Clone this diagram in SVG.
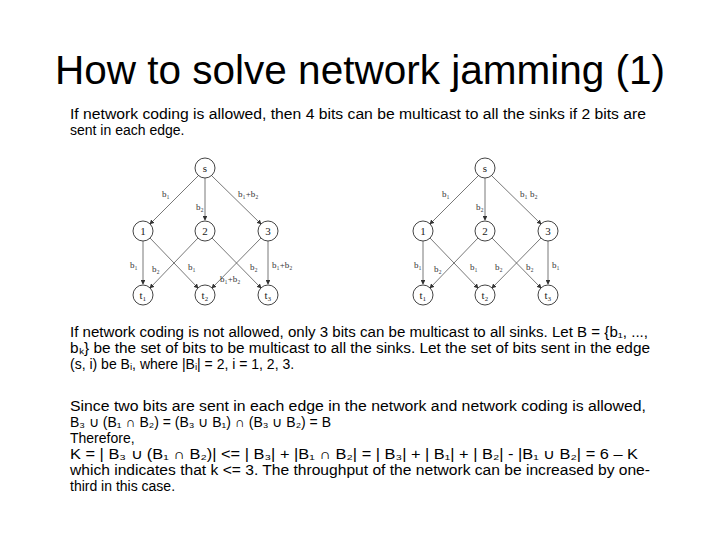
<svg xmlns="http://www.w3.org/2000/svg" width="720" height="540" viewBox="0 0 720 540">
<style>
.t{font-family:"Liberation Sans",Arial,sans-serif;font-size:14px;fill:#000}
.n circle{fill:#fff;stroke:#444;stroke-width:1}
.n text{font-family:"Liberation Serif",serif;font-size:11px;text-anchor:middle;fill:#222}
.c line{stroke:#555;stroke-width:0.8;marker-end:url(#a)}
.l text{font-family:"Liberation Serif",serif;font-size:9px;fill:#333}
</style>
<defs><marker id="a" markerWidth="6" markerHeight="6" refX="5" refY="3" orient="auto"><path d="M0,0L6,3L0,6z" fill="#333"/></marker></defs>
<rect width="720" height="540" fill="#fff"/>
<text x="360" y="84" text-anchor="middle" font-family="'Liberation Sans',Arial,sans-serif" font-size="40" textLength="610" lengthAdjust="spacingAndGlyphs">How to solve network jamming (1)</text>
<text class="t" x="70" y="119" textLength="576" lengthAdjust="spacingAndGlyphs">If network coding is allowed, then 4 bits can be multicast to all the sinks if 2 bits are</text>
<text class="t" x="70" y="135">sent in each edge.</text>
<g class="c">
<line x1="198" y1="176" x2="150" y2="224"/><line x1="205" y1="178" x2="205" y2="220"/><line x1="212" y1="176" x2="261" y2="224"/>
<line x1="143" y1="241" x2="143" y2="284"/><line x1="150" y1="238" x2="198" y2="288"/><line x1="198" y1="238" x2="150" y2="288"/>
<line x1="212" y1="238" x2="261" y2="288"/><line x1="261" y1="238" x2="212" y2="288"/><line x1="268" y1="241" x2="268" y2="284"/>
<line x1="478" y1="176" x2="430" y2="224"/><line x1="485" y1="178" x2="485" y2="220"/><line x1="492" y1="176" x2="541" y2="224"/>
<line x1="423" y1="241" x2="423" y2="284"/><line x1="430" y1="238" x2="478" y2="288"/><line x1="478" y1="238" x2="430" y2="288"/>
<line x1="492" y1="238" x2="541" y2="288"/><line x1="541" y1="238" x2="492" y2="288"/><line x1="548" y1="241" x2="548" y2="284"/>
</g>
<g id="g1">
<g id="s1" class="n"><circle cx="205" cy="168" r="10"/><text x="205" y="172">s</text></g>
<g id="n11" class="n"><circle cx="143" cy="231" r="10"/><text x="143" y="235">1</text></g>
<g id="n12" class="n"><circle cx="205" cy="231" r="10"/><text x="205" y="235">2</text></g>
<g id="n13" class="n"><circle cx="268" cy="231" r="10"/><text x="268" y="235">3</text></g>
<g id="t11" class="n"><circle cx="143" cy="295" r="10"/><text x="143" y="299">t₁</text></g>
<g id="t12" class="n"><circle cx="205" cy="295" r="10"/><text x="205" y="299">t₂</text></g>
<g id="t13" class="n"><circle cx="268" cy="295" r="10"/><text x="268" y="299">t₃</text></g>
</g>
<g id="g2">
<g id="s2" class="n"><circle cx="485" cy="168" r="10"/><text x="485" y="172">s</text></g>
<g id="n21" class="n"><circle cx="423" cy="231" r="10"/><text x="423" y="235">1</text></g>
<g id="n22" class="n"><circle cx="485" cy="231" r="10"/><text x="485" y="235">2</text></g>
<g id="n23" class="n"><circle cx="548" cy="231" r="10"/><text x="548" y="235">3</text></g>
<g id="t21" class="n"><circle cx="423" cy="295" r="10"/><text x="423" y="299">t₁</text></g>
<g id="t22" class="n"><circle cx="485" cy="295" r="10"/><text x="485" y="299">t₂</text></g>
<g id="t23" class="n"><circle cx="548" cy="295" r="10"/><text x="548" y="299">t₃</text></g>
</g>
<g class="l">
<text x="162" y="197">b₁</text><text x="196" y="210">b₂</text><text x="238" y="197">b₁+b₂</text>
<text x="130" y="268">b₁</text><text x="152" y="272">b₂</text><text x="188" y="270">b₁</text><text x="250" y="270">b₂</text><text x="220" y="282">b₁+b₂</text><text x="272" y="268">b₁+b₂</text>
<text x="442" y="197">b₁</text><text x="476" y="210">b₂</text><text x="520" y="197">b₁ b₂</text>
<text x="414" y="268">b₁</text><text x="434" y="272">b₂</text><text x="470" y="270">b₁</text><text x="495" y="270">b₂</text><text x="526" y="270">b₂</text><text x="552" y="268">b₁</text>
</g>
<text class="t" x="70" y="337" textLength="578" lengthAdjust="spacingAndGlyphs">If network coding is not allowed, only 3 bits can be multicast to all sinks. Let B = {b₁, ...,</text>
<text class="t" x="70" y="353" textLength="580" lengthAdjust="spacingAndGlyphs">bₖ} be the set of bits to be multicast to all the sinks. Let the set of bits sent in the edge</text>
<text class="t" x="70" y="369">(s, i) be Bᵢ, where |Bᵢ| = 2, i = 1, 2, 3.</text>
<text class="t" x="70" y="411" textLength="576" lengthAdjust="spacingAndGlyphs">Since two bits are sent in each edge in the network and network coding is allowed,</text>
<text class="t" x="70" y="427">B₃ ∪ (B₁ ∩ B₂) = (B₃ ∪ B₁) ∩ (B₃ ∪ B₂) = B</text>
<text class="t" x="70" y="443">Therefore,</text>
<text class="t" x="70" y="459" textLength="568" lengthAdjust="spacingAndGlyphs">K = | B₃ ∪ (B₁ ∩ B₂)| &lt;= | B₃| + |B₁ ∩ B₂| = | B₃| + | B₁| + | B₂| - |B₁ ∪ B₂| = 6 – K</text>
<text class="t" x="70" y="475" textLength="580" lengthAdjust="spacingAndGlyphs">which indicates that k &lt;= 3. The throughput of the network can be increased by one-</text>
<text class="t" x="70" y="491">third in this case.</text>
</svg>
